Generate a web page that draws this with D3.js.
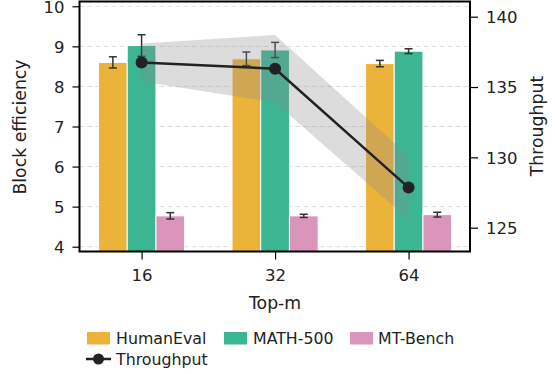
<!DOCTYPE html>
<html>
<head>
<meta charset="utf-8">
<style>
  body { margin: 0; background: #fff; }
  text { font-family: "DejaVu Sans", sans-serif; fill: #222; }
  .grid line { stroke: #dedede; stroke-dasharray: 5,3; stroke-width: 1; }
</style>
</head>
<body>
<script src="https://d3js.org/d3.v7.min.js"></script>
<div id="chart"></div>
<script>
// data
var topM = ["16", "32", "64"];
var series = ["HumanEval", "MATH-500", "MT-Bench"];
var colors = ["#ECB33A", "#3BB592", "#D995BA"];
var humanEval = [8.60, 8.69, 8.57];
var humanEvalErr = [0.14, 0.17, 0.08];
var math500 = [9.02, 8.91, 8.88];
var math500Err = [0.27, 0.19, 0.06];
var mtBench = [4.77, 4.77, 4.80];
var mtBenchErr = [0.08, 0.04, 0.06];
var throughput = [136.75, 136.3, 127.85];
var throughputBand = [1.35, 2.4, 2.25];
var leftTicks = [4, 5, 6, 7, 8, 9, 10];
var rightTicks = [125, 130, 135, 140];

var values = [humanEval, math500, mtBench];
var errs = [humanEvalErr, math500Err, mtBenchErr];

var W = 555, H = 374;
var L = 79.5, R = 470, T = 1.5, B = 251.5;

var svg = d3.select("#chart").append("svg")
    .attr("width", W).attr("height", H);

var x = d3.scaleLinear().domain([-0.465, 2.46]).range([L, R]);
var y = d3.scaleLinear().domain([4, 10]).range([246.7, 6.3]);
var y2 = d3.scaleLinear().domain([125, 140]).range([227.7, 16.7]);
var barW = 0.215;

// grid
svg.append("g").attr("class", "grid")
  .selectAll("line").data(leftTicks).enter().append("line")
    .attr("x1", L).attr("x2", R)
    .attr("y1", function(d) { return y(d); })
    .attr("y2", function(d) { return y(d); });

// bars
series.forEach(function(s, j) {
  var g = svg.append("g");
  g.selectAll("rect").data(values[j]).enter().append("rect")
    .attr("x", function(d, i) { return x(i + (j - 1) * barW - barW / 2); })
    .attr("width", x(barW) - x(0))
    .attr("y", function(d) { return y(d); })
    .attr("height", function(d) { return B - y(d); })
    .attr("fill", colors[j])
    .attr("stroke", "#fff").attr("stroke-width", 1);
});

// error bars
series.forEach(function(s, j) {
  values[j].forEach(function(v, i) {
    var cx = x(i + (j - 1) * barW), e = errs[j][i];
    var g = svg.append("g").attr("stroke", "#333").attr("stroke-width", 1.5);
    g.append("line").attr("x1", cx).attr("x2", cx).attr("y1", y(v - e)).attr("y2", y(v + e));
    g.append("line").attr("x1", cx - 4).attr("x2", cx + 4).attr("y1", y(v - e)).attr("y2", y(v - e));
    g.append("line").attr("x1", cx - 4).attr("x2", cx + 4).attr("y1", y(v + e)).attr("y2", y(v + e));
  });
});

// throughput band + line
var area = d3.area()
  .x(function(d, i) { return x(i); })
  .y0(function(d, i) { return y2(d - throughputBand[i]); })
  .y1(function(d, i) { return y2(d + throughputBand[i]); });
svg.append("path").datum(throughput)
  .attr("d", area).attr("fill", "#8c8c8c").attr("fill-opacity", 0.3);

var line = d3.line().x(function(d, i) { return x(i); }).y(function(d) { return y2(d); });
svg.append("path").datum(throughput)
  .attr("d", line).attr("fill", "none").attr("stroke", "#222").attr("stroke-width", 2.5);
svg.selectAll(".dot").data(throughput).enter().append("circle")
  .attr("cx", function(d, i) { return x(i); })
  .attr("cy", function(d) { return y2(d); })
  .attr("r", 6).attr("fill", "#222");

// frame
svg.append("rect").attr("x", L).attr("y", T).attr("width", R - L).attr("height", B - T)
  .attr("fill", "none").attr("stroke", "#000").attr("stroke-width", 2);

// axes
var fs = 16.5;
var leftAxis = svg.append("g").attr("transform", "translate(" + L + ",0)")
  .call(d3.axisLeft(y).tickValues(leftTicks).tickFormat(d3.format("d")).tickSize(7).tickPadding(8));
var rightAxis = svg.append("g").attr("transform", "translate(" + R + ",0)")
  .call(d3.axisRight(y2).tickValues(rightTicks).tickFormat(d3.format("d")).tickSize(8).tickPadding(8));
var bottomAxis = svg.append("g").attr("transform", "translate(0," + B + ")")
  .call(d3.axisBottom(x).tickValues([0, 1, 2]).tickFormat(function(d) { return topM[d]; })
    .tickSize(8).tickPadding(10));
[leftAxis, rightAxis, bottomAxis].forEach(function(a) {
  a.select(".domain").remove();
  a.selectAll("line").attr("stroke", "#000").attr("stroke-width", 1.2);
  a.selectAll("text").style("font-family", "DejaVu Sans").style("font-size", fs + "px").attr("fill", "#222");
});
leftAxis.selectAll("text").attr("dy", "0.38em");
rightAxis.selectAll("text").attr("dy", "0.36em");

svg.append("text").attr("transform", "translate(26,127) rotate(-90)")
  .attr("text-anchor", "middle").style("font-size", "17.3px").text("Block efficiency");
svg.append("text").attr("transform", "translate(543,126) rotate(-90)")
  .attr("text-anchor", "middle").style("font-size", "17.3px").text("Throughput");
svg.append("text").attr("x", x(1)).attr("y", 309)
  .attr("text-anchor", "middle").style("font-size", "17.3px").text("Top-m");

// legend
var legX = [87, 224, 350];
var legTextX = [116, 253, 378];
series.forEach(function(s, j) {
  svg.append("rect").attr("x", legX[j]).attr("y", 332).attr("width", 23).attr("height", 12.5)
    .attr("fill", colors[j]);
  svg.append("text").attr("x", legTextX[j]).attr("y", 344.3)
    .style("font-size", "15.8px").text(s);
});
svg.append("line").attr("x1", 86).attr("x2", 111).attr("y1", 359).attr("y2", 359)
  .attr("stroke", "#222").attr("stroke-width", 2.5);
svg.append("circle").attr("cx", 98.5).attr("cy", 359).attr("r", 5.5).attr("fill", "#222");
svg.append("text").attr("x", 116).attr("y", 365).style("font-size", "15.8px").text("Throughput");
</script>
</body>
</html>
